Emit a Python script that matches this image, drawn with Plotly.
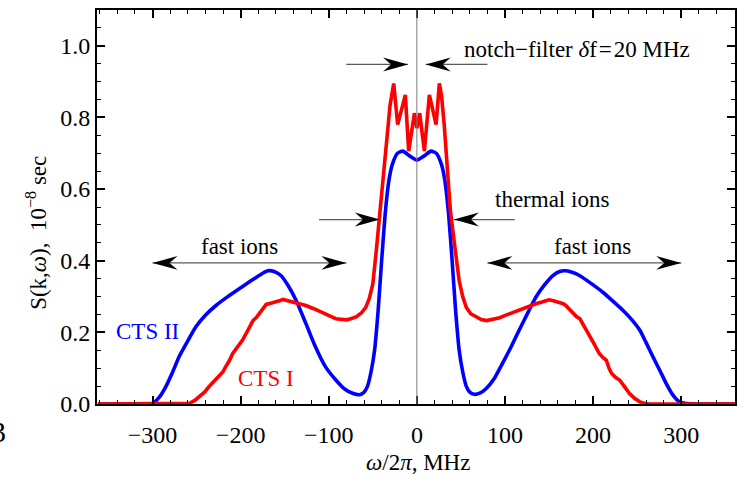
import plotly.graph_objects as go

# ---------------- data ----------------
blue_x = [-362, -310, -300, -292, -285, -277, -270, -260, -251, -240, -228, -215, -202, -190,
          -182, -175, -169, -162, -154, -146, -137, -126, -115, -104, -92, -82, -73, -65, -60,
          -56, -52, -48, -44, -40, -36, -32, -28, -22, -16, -8, 0,
          8, 16, 22, 28, 32, 36, 40, 44, 48, 52, 56, 60, 65, 72, 79, 88, 97, 107, 116, 126,
          135, 145, 154, 162, 169, 177, 185, 198, 211, 222, 234, 244, 253, 260, 268, 276, 283,
          290, 298, 306, 320, 361]
blue_y = [0, 0, 0.002, 0.02, 0.048, 0.09, 0.131, 0.176, 0.215, 0.248, 0.275, 0.299, 0.321, 0.341,
          0.354, 0.365, 0.372, 0.370, 0.358, 0.33, 0.289, 0.225, 0.159, 0.105, 0.067, 0.042, 0.030,
          0.026, 0.033, 0.05, 0.09, 0.15, 0.26, 0.40, 0.53, 0.62, 0.668, 0.70, 0.706, 0.692, 0.681,
          0.692, 0.706, 0.70, 0.668, 0.62, 0.53, 0.40, 0.26, 0.15, 0.09, 0.05, 0.033, 0.027, 0.031,
          0.044, 0.072, 0.113, 0.16, 0.206, 0.255, 0.298, 0.333, 0.358, 0.370, 0.372, 0.367, 0.358,
          0.336, 0.312, 0.288, 0.261, 0.235, 0.206, 0.172, 0.131, 0.092, 0.057, 0.027, 0.006, 0.001,
          0, 0]

red_x = [-362, -270, -258, -252, -247, -241, -236, -230, -224, -220, -217, -213, -209, -204, -198,
         -192, -186, -182, -179, -175, -171, -166, -160, -156, -152, -147, -141, -134, -126, -117,
         -107, -99, -92, -86, -80, -75, -69, -63, -58, -54, -50, -46, -43, -40.7, -38, -35, -32.5,
         -30.4, -26.3, -21.8, -13.1, -9.3, -2.8, 0, 3.2, 8.5, 14.2, 21.8, 25.5, 28, 31, 34, 38, 42,
         45, 48, 52, 56, 61, 67, 73, 79, 86, 94, 101, 109, 116, 124, 130, 135, 141, 146, 150, 155,
         162, 166, 169, 173, 177, 181, 185, 189, 192, 196, 200, 204, 207, 211, 215, 218, 221, 226,
         230, 236, 241, 247, 253, 258, 264, 361]
red_y = [0, 0, 0.002, 0.01, 0.02, 0.033, 0.048, 0.064, 0.081, 0.09, 0.104, 0.12, 0.141, 0.158, 0.178,
         0.205, 0.233, 0.242, 0.252, 0.265, 0.278, 0.281, 0.284, 0.288, 0.292, 0.289, 0.284, 0.281,
         0.275, 0.266, 0.256, 0.246, 0.238, 0.236, 0.235, 0.238, 0.243, 0.254, 0.27, 0.295, 0.335,
         0.43, 0.51, 0.567, 0.65, 0.724, 0.79, 0.835, 0.895, 0.78, 0.863, 0.706, 0.812, 0.77, 0.812,
         0.706, 0.863, 0.78, 0.895, 0.86, 0.78, 0.66, 0.54, 0.46, 0.39, 0.344, 0.30, 0.27, 0.252,
         0.243, 0.236, 0.233, 0.236, 0.241, 0.248, 0.256, 0.263, 0.269, 0.276, 0.28, 0.284, 0.287,
         0.291, 0.288, 0.284, 0.28, 0.275, 0.264, 0.252, 0.244, 0.238, 0.222, 0.206, 0.19, 0.173,
         0.156, 0.141, 0.13, 0.122, 0.1, 0.085, 0.073, 0.067, 0.047, 0.03, 0.016, 0.006, 0.002, 0, 0]

x_tick_vals = [-300, -200, -100, 0, 100, 200, 300]
y_tick_vals = [0.0, 0.2, 0.4, 0.6, 0.8, 1.0]
y_tick_text = ["0.0", "0.2", "0.4", "0.6", "0.8", "1.0"]

# annotation arrows: tail x, tip x, y, double-headed
arrow_tail = [-80, 80, -111, 111, -300, 80]
arrow_tip = [-10, 10, -42, 42, -80, 300]
arrow_y = [0.948, 0.948, 0.515, 0.515, 0.394, 0.394]
arrow_double = [False, False, False, False, True, True]

label_text = ["notch\u2212filter <i>\u03b4</i>f\u200a=\u200a20 MHz", "thermal ions", "fast ions", "fast ions"]
label_x = [182, 153, -201, 199]
label_y = [0.99, 0.57, 0.44, 0.44]

series_names = ["CTS II", "CTS I"]
series_label_x = [-306, -171]
series_label_y = [0.203, 0.072]

# ---------------- layout geometry ----------------
W, H = 745, 478
ML, MR, MT, MB = 97, 10, 8, 74
XR = [-363, 361]
YR = [0, 1.1]
PW, PH = W - ML - MR, H - MT - MB
px_per_x = PW / (XR[1] - XR[0])
px_per_y = PH / (YR[1] - YR[0])

FONT = "Liberation Serif, Times New Roman, serif"
BLUE = "#0000ff"
RED = "#ff0000"

fig = go.Figure()
fig.add_trace(go.Scatter(x=blue_x, y=blue_y, mode="lines", line=dict(color=BLUE, width=3.6, shape="spline", smoothing=0.6),
                         name=series_names[0], hoverinfo="skip"))
fig.add_trace(go.Scatter(x=red_x, y=red_y, mode="lines", line=dict(color=RED, width=3.6),
                         name=series_names[1], hoverinfo="skip"))

shapes = []
# vertical line at 0
shapes.append(dict(type="line", xref="x", yref="paper", x0=0, x1=0, y0=0, y1=1,
                   line=dict(color="#7a7a7a", width=1), layer="above"))

HL, HW, HN = 25, 7, 17  # head length, half width, notch (px)


def head(xt, y, d):
    L = HL / px_per_x
    N = HN / px_per_x
    w = HW / px_per_y
    return (f"M {xt},{y} L {xt - d * L},{y + w} L {xt - d * N},{y} "
            f"L {xt - d * L},{y - w} Z")


for xt0, xt1, yy, dbl in zip(arrow_tail, arrow_tip, arrow_y, arrow_double):
    shapes.append(dict(type="line", xref="x", yref="y", x0=xt0, x1=xt1, y0=yy, y1=yy,
                       line=dict(color="#5a5a5a", width=1.2), layer="above"))
    d = 1 if xt1 > xt0 else -1
    shapes.append(dict(type="path", xref="x", yref="y", path=head(xt1, yy, d),
                       fillcolor="black", line=dict(width=0), layer="above"))
    if dbl:
        shapes.append(dict(type="path", xref="x", yref="y", path=head(xt0, yy, -d),
                           fillcolor="black", line=dict(width=0), layer="above"))

annotations = []
for t, x, y in zip(label_text, label_x, label_y):
    annotations.append(dict(text=t, x=x, y=y, xref="x", yref="y", showarrow=False,
                            xanchor="center", yanchor="middle",
                            font=dict(family=FONT, size=23, color="black")))
for t, x, y, c in zip(series_names, series_label_x, series_label_y, [BLUE, RED]):
    annotations.append(dict(text=t, x=x, y=y, xref="x", yref="y", showarrow=False,
                            xanchor="center", yanchor="middle",
                            font=dict(family=FONT, size=23, color=c)))

# axis titles
annotations.append(dict(text="<i>\u03c9</i>/2<i>\u03c0</i>, MHz", xref="paper", yref="paper",
                        x=(418 - ML) / PW, y=-(463 - (H - MB)) / PH,
                        xanchor="center", yanchor="middle",
                        showarrow=False, font=dict(family=FONT, size=23, color="black")))
annotations.append(dict(text="S(k,<i>\u03c9</i>),  10<sup>\u22128</sup> sec", xref="paper", yref="paper",
                        x=-(ML - 37) / PW, y=((H - MB) - 232) / PH,
                        xanchor="center", yanchor="middle",
                        textangle=-90, showarrow=False, font=dict(family=FONT, size=23, color="black")))
# cropped panel label at page edge
annotations.append(dict(text="3", xref="paper", yref="paper", xanchor="right", yanchor="middle",
                        x=-(ML - 8) / PW, y=-(432 - (H - MB)) / PH,
                        showarrow=False, font=dict(family=FONT, size=30, color="black")))

axis_common = dict(showgrid=False, zeroline=False, showline=True, linewidth=2, linecolor="black",
                   mirror="allticks", ticks="inside", ticklen=8, tickwidth=1.5, tickcolor="black",
                   tickfont=dict(family=FONT, size=24, color="black"))

fig.update_layout(
    width=W, height=H,
    margin=dict(l=ML, r=MR, t=MT, b=MB),
    paper_bgcolor="white", plot_bgcolor="white",
    showlegend=False,
    shapes=shapes, annotations=annotations,
    xaxis=dict(range=XR, tickvals=x_tick_vals, ticklabelstandoff=8, **axis_common,
               minor=dict(tick0=0, dtick=20, ticks="inside", ticklen=4, tickwidth=1.2, tickcolor="black")),
    yaxis=dict(range=YR, tickvals=y_tick_vals, ticktext=y_tick_text, **axis_common,
               minor=dict(tick0=0, dtick=0.05, ticks="inside", ticklen=4, tickwidth=1.2, tickcolor="black")),
)

fig.write_html("out.html")
